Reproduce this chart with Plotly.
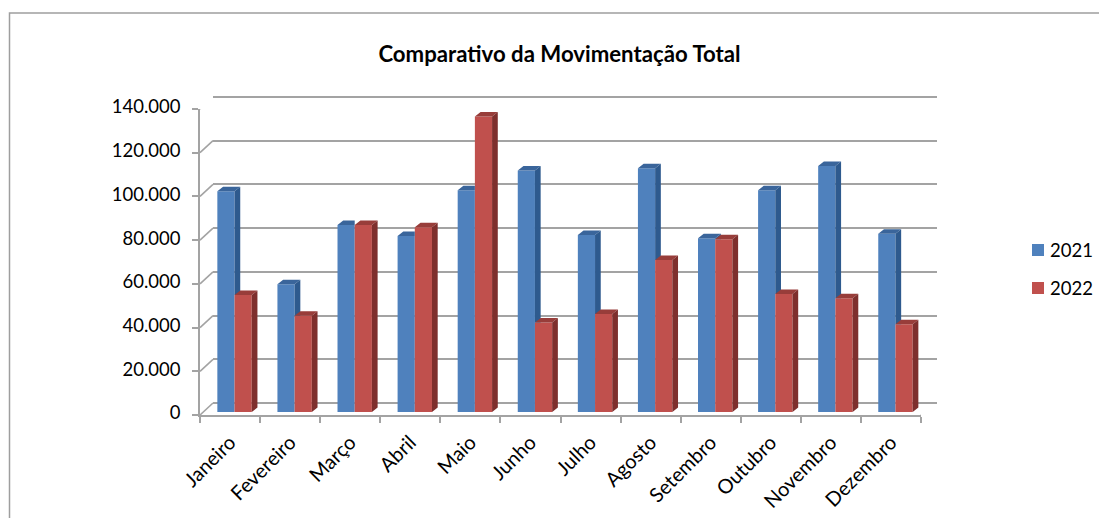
import plotly.graph_objects as go

W, H = 1099, 518

meses = ["Janeiro", "Fevereiro", "Março", "Abril", "Maio", "Junho", "Julho",
         "Agosto", "Setembro", "Outubro", "Novembro", "Dezembro"]
v2021 = [101000, 58500, 85500, 80500, 101500, 110500, 81000, 111500, 79500, 101500, 112500, 81500]
v2022 = [53500, 44000, 85500, 84500, 135200, 41000, 44800, 69500, 79000, 54000, 52000, 40200]
y_ticks = [0, 20000, 40000, 60000, 80000, 100000, 120000, 140000]
y_labels = ["0", "20.000", "40.000", "60.000", "80.000", "100.000", "120.000", "140.000"]

AZUL, VERM = "#4F81BD", "#C0504D"
AZUL_LADO, VERM_LADO = "#2E5A8E", "#7E2F2D"
AZUL_TOPO, VERM_TOPO = "#3A659B", "#983D3A"
CINZA = "#A3A3A3"
FONT = "Lato"

PX_CAT = (921 - 200) / 12
PX_VAL = (415 - 109) / 140000
cat = lambda px: px / PX_CAT
val = lambda px: px / PX_VAL

BASE = val(3)
BW = cat(17.2)
OFF_A = -cat(12.7)
OFF_B = OFF_A + BW
SDX, SDY = cat(5.7), val(4.5)

fig = go.Figure()

fig.add_trace(go.Scatter(x=[0], y=[0], xaxis="x", yaxis="y", mode="markers",
                         marker=dict(opacity=0), showlegend=False, hoverinfo="skip"))

centres = [i + 0.5 for i in range(12)]
fig.add_trace(go.Bar(x=centres, y=v2021, base=BASE, offset=OFF_A, width=BW, name="2021", legendgroup="a",
                     marker=dict(color=AZUL, line_width=0), xaxis="x2", yaxis="y2"))
fig.add_trace(go.Bar(x=centres, y=v2022, base=BASE, offset=OFF_B, width=BW, name="2022", legendgroup="b",
                     marker=dict(color=VERM, line_width=0), xaxis="x2", yaxis="y2"))


def poly(pts_list, color):
    xs, ys = [], []
    for pts in pts_list:
        xs += [p[0] for p in pts] + [pts[0][0], None]
        ys += [p[1] for p in pts] + [pts[0][1], None]
    fig.add_trace(go.Scatter(x=xs, y=ys, mode="lines", fill="toself", fillcolor=color,
                             line=dict(width=0, color=color), showlegend=False,
                             hoverinfo="skip", xaxis="x2", yaxis="y2"))


side_a, top_a, side_b, top_b = [], [], [], []
for c, a, b in zip(centres, v2021, v2022):
    ta, tb = a + BASE, b + BASE
    xa0, xa1 = c + OFF_A, c + OFF_B
    xb0, xb1 = xa1, xa1 + BW
    if ta > tb:
        side_a.append([(xa1, tb), (xa1, ta), (xa1 + SDX, ta + SDY), (xa1 + SDX, tb)])
        top_a.append([(xa0, ta), (xa1, ta), (xa1 + SDX, ta + SDY), (xa0 + SDX, ta + SDY)])
    else:
        top_a.append([(xa0, ta), (xa1, ta), (xa1, ta + SDY), (xa0 + SDX, ta + SDY)])
    side_b.append([(xb1, BASE), (xb1, tb), (xb1 + SDX, tb + SDY), (xb1 + SDX, BASE + SDY)])
    top_b.append([(xb0, tb), (xb1, tb), (xb1 + SDX, tb + SDY), (xb0 + SDX, tb + SDY)])
poly(top_a, AZUL_TOPO)
poly(side_a, AZUL_LADO)
poly(top_b, VERM_TOPO)
poly(side_b, VERM_LADO)

dx_l, dx_r, dy_b = cat(13), cat(16), val(12)
lx, ly = [], []
for t in y_ticks:
    lx += [0, dx_l, None]
    ly += [t, t + dy_b, None]
lx += [12, 12 + dx_r]
ly += [0, dy_b]
fig.add_trace(go.Scatter(x=lx, y=ly, mode="lines", line=dict(color=CINZA, width=1.6),
                         showlegend=False, hoverinfo="skip", cliponaxis=False,
                         xaxis="x2", yaxis="y2"))

font = dict(family=FONT, size=18.5, color="#000000")
PAD = 4  # back-wall axis reaches a little past its end gridlines so they are drawn
fig.update_layout(
    width=W, height=H, margin=dict(l=0, r=0, t=0, b=0),
    paper_bgcolor="white", plot_bgcolor="rgba(0,0,0,0)", showlegend=True,
    barmode="overlay", font=font,
    title=dict(text="<b>Comparativo da Movimentação Total</b>", x=559.5 / W, y=1 - 54 / H,
               xanchor="center", yanchor="middle", font=dict(family=FONT, size=22.2, color="#000000")),
    xaxis=dict(domain=[213 / W, 937 / W], range=[0, 1], showgrid=False, zeroline=False,
               showticklabels=False, ticks="", automargin=False),
    yaxis=dict(domain=[1 - (403 + PAD) / H, 1 - (97 - PAD) / H],
               range=[-val(PAD), 140000 + val(PAD)], tickvals=y_ticks,
               showgrid=True, gridcolor=CINZA, gridwidth=1.6, zeroline=False,
               showticklabels=False, ticks="", automargin=False),
    xaxis2=dict(domain=[200 / W, 921 / W], range=[0, 12], anchor="y2", showgrid=False, zeroline=False,
                showline=True, linecolor=CINZA, linewidth=1.6, automargin=False,
                tickvals=centres, ticktext=meses, tickangle=-45, ticks="",
                tickfont=dict(family=FONT, size=20, color="#000000"), ticklabelstandoff=6,
                minor=dict(tickvals=list(range(13)), ticks="outside", ticklen=6,
                           tickcolor=CINZA, tickwidth=1.6)),
    yaxis2=dict(domain=[1 - 415 / H, 1 - 109 / H], range=[0, 140000], anchor="x2", showgrid=False,
                zeroline=False, showline=True, linecolor=CINZA, linewidth=1.6, automargin=False,
                tickvals=y_ticks, ticktext=y_labels, ticks="outside", ticklen=6,
                ticklabelstandoff=8, ticklabelshift=-2,
                tickcolor=CINZA, tickwidth=1.6, tickfont=font),
    legend=dict(x=1008 / W, y=1 - 231.5 / H, xanchor="left", yanchor="top", traceorder="grouped",
                tracegroupgap=11, font=font, bgcolor="rgba(0,0,0,0)"),
    shapes=[dict(type="path", xref="paper", yref="paper",
                 path=f"M {9.5 / W},0 L {9.5 / W},{1 - 13 / H} L {1099 / W},{1 - 13 / H}",
                 line=dict(color="#9E9E9E", width=1.5))],
)

js = """
document.body.style.margin='0';
document.querySelectorAll('.legendtext').forEach(function(e){e.setAttribute('x', parseFloat(e.getAttribute('x'))-8);});
var lg=document.querySelector('.legend');
var m=/translate\\(([-\\d.]+),\\s*([-\\d.]+)\\)/.exec(lg.getAttribute('transform'));
if(m){lg.setAttribute('transform','translate('+(parseFloat(m[1])+10)+','+m[2]+')');}
"""
fig.write_html("out.html", post_script=js, config=dict(displayModeBar=False))
